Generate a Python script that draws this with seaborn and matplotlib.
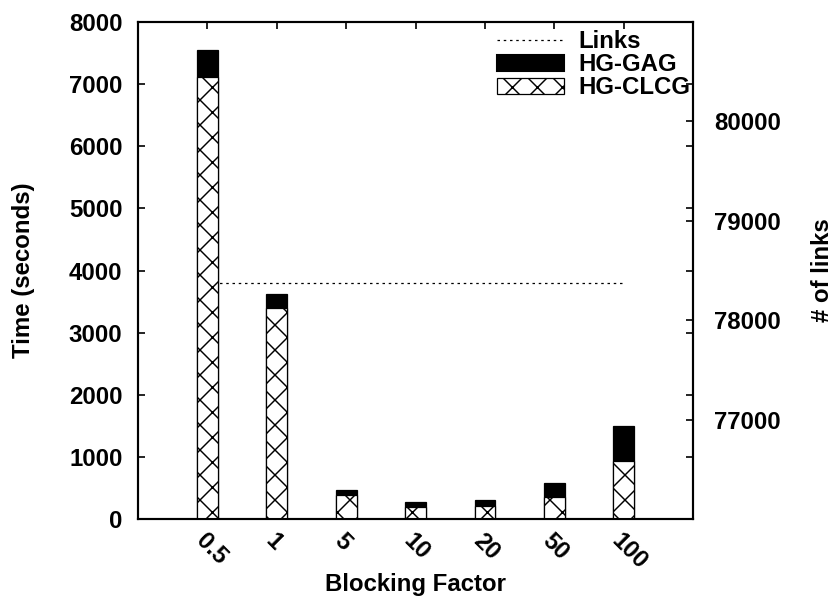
"""Stacked timing bars (HG-CLCG + HG-GAG) with link count on a second axis."""

import matplotlib

matplotlib.use("Agg")

import matplotlib.pyplot as plt
import matplotlib.transforms as mtransforms
import numpy as np
import pandas as pd
import seaborn as sns
from matplotlib.lines import Line2D
from matplotlib.patches import Patch

# values
blocking_factors = ["0.5", "1", "5", "10", "20", "50", "100"]
hg_clcg = [7110, 3400, 390, 195, 210, 355, 935]
hg_gag = [440, 220, 80, 80, 95, 225, 565]
links = [78370, 78370, 78370, 78370, 78370, 78370, 78370]

left_ticks = [0, 1000, 2000, 3000, 4000, 5000, 6000, 7000, 8000]
right_ticks = [77000, 78000, 79000, 80000]

sns.set_style("ticks")
plt.rcParams["font.family"] = ["Liberation Sans", "DejaVu Sans"]
plt.rcParams["font.weight"] = "bold"
plt.rcParams["axes.labelweight"] = "bold"
plt.rcParams["hatch.linewidth"] = 0.7
plt.rcParams["hatch.color"] = "black"
for key in ("text.color", "axes.labelcolor", "xtick.color", "ytick.color", "axes.edgecolor"):
    plt.rcParams[key] = "black"

df = pd.DataFrame(
    {
        "factor": blocking_factors,
        "clcg": hg_clcg,
        "total": np.array(hg_clcg) + np.array(hg_gag),
        "links": links,
    }
)

fig = plt.figure(figsize=(834 / 150, 601 / 150), dpi=150)
ax = fig.add_axes([0.1655, 0.1364, 0.6655, 0.827])
ax2 = ax.twinx()

# links line sits behind the bars
ax.set_zorder(ax2.get_zorder() + 1)
ax.patch.set_visible(False)

sns.lineplot(
    x=np.arange(len(blocking_factors)),
    y=df["links"],
    ax=ax2,
    color="black",
    linestyle=(0, (2, 3)),
    linewidth=0.6,
)

sns.barplot(
    data=df, x="factor", y="total", order=blocking_factors, ax=ax,
    color="black", saturation=1, width=0.3, edgecolor="black", linewidth=0.6,
)
sns.barplot(
    data=df, x="factor", y="clcg", order=blocking_factors, ax=ax,
    color="white", saturation=1, width=0.3, edgecolor="black", linewidth=0.6,
    hatch="xx",
)

fs = 11.5
ax.set_xlim(-1, 7)
ax.set_ylim(0, 8000)
ax.set_yticks(left_ticks)
ax.set_yticklabels([str(t) for t in left_ticks], fontsize=fs, fontweight="bold")
ax.set_xticks(range(len(blocking_factors)))
ax.set_xticklabels(blocking_factors, fontsize=fs, fontweight="bold")
for lab in ax.get_xticklabels():
    lab.set_rotation(-45)
    lab.set_ha("left")
    lab.set_va("top")
    lab.set_rotation_mode("anchor")
    lab.set_transform(lab.get_transform() + mtransforms.ScaledTranslation(-4 / 72, 0, fig.dpi_scale_trans))
ax.tick_params(axis="both", direction="in", length=3.4, width=0.8,
               top=True, right=True, labelright=False)
ax.tick_params(axis="y", pad=7.5)
ax.tick_params(axis="x", pad=5)

ax2.set_ylim(76000, 81000)
ax2.set_yticks(right_ticks)
ax2.set_yticklabels([str(t) for t in right_ticks], fontsize=fs, fontweight="bold")
ax2.tick_params(axis="y", direction="in", length=3.4, width=0.8, pad=10)
ax2.set_ylabel("")

for a in (ax, ax2):
    for sp in a.spines.values():
        sp.set_visible(True)
        sp.set_linewidth(1.0)
        sp.set_color("black")

ax.set_xlabel("Blocking Factor", fontsize=fs, fontweight="bold")
ax.xaxis.set_label_coords(0.5, -0.108)
ax.set_ylabel("Time (seconds)", fontsize=fs, fontweight="bold")
ax.yaxis.set_label_coords(-0.186, 0.5)
ax2.set_ylabel("# of links", fontsize=fs, fontweight="bold")
ax2.yaxis.set_label_coords(1.212, 0.5)

handles = [
    Line2D([], [], color="black", linestyle=(0, (2, 3)), linewidth=0.6),
    Patch(facecolor="black", edgecolor="black"),
    Patch(facecolor="white", edgecolor="black", hatch="xx", linewidth=0.6),
]
ax.legend(
    handles, ["Links", "HG-GAG", "HG-CLCG"],
    loc="upper left", bbox_to_anchor=(0.647, 0.983),
    frameon=False, borderpad=0, borderaxespad=0,
    handlelength=2.8, handletextpad=0.6, labelspacing=0.0,
    prop={"size": fs, "weight": "bold"},
)

fig.savefig("out.png", dpi=150)
plt.close(fig)
